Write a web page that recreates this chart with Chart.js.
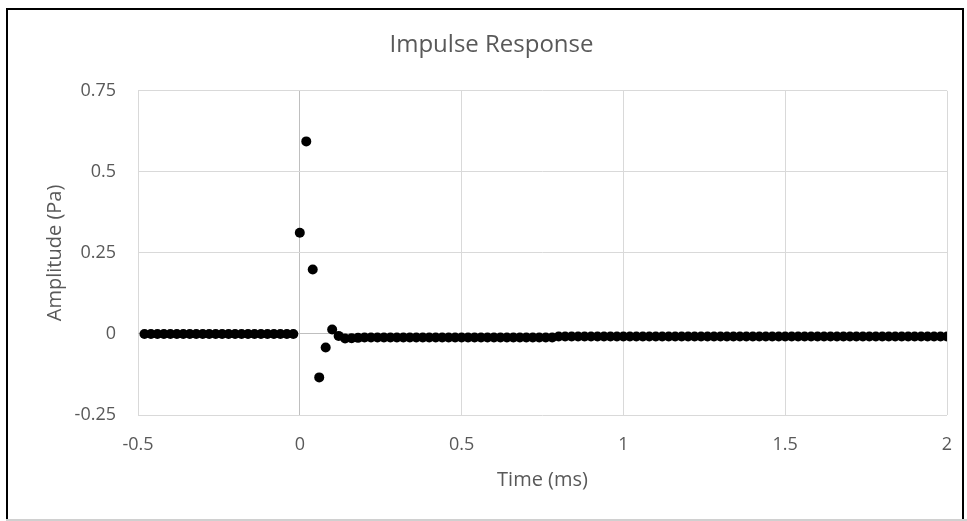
<!DOCTYPE html>
<html>
<head>
<meta charset="utf-8">
<script src="https://cdn.jsdelivr.net/npm/chart.js@4/dist/chart.umd.min.js"></script>
<style>
  html, body { margin: 0; padding: 0; background: #ffffff; }
  #wrap { position: relative; width: 967px; height: 521px; }
</style>
</head>
<body>
<div id="wrap"><canvas id="c" width="967" height="521"></canvas></div>
<script>
const chartTitle = "Impulse Response";
const xAxisTitle = "Time (ms)";
const yAxisTitle = "Amplitude (Pa)";
const xTicks = [-0.5, 0, 0.5, 1, 1.5, 2];
const yTicks = [-0.25, 0, 0.25, 0.5, 0.75];

const times = [
  -0.48,-0.46,-0.44,-0.42,-0.40,-0.38,-0.36,-0.34,-0.32,-0.30,-0.28,-0.26,
  -0.24,-0.22,-0.20,-0.18,-0.16,-0.14,-0.12,-0.10,-0.08,-0.06,-0.04,-0.02,
  0.00,0.02,0.04,0.06,0.08,0.10,0.12,0.14,0.16,0.18,
  0.20,0.22,0.24,0.26,0.28,0.30,0.32,0.34,0.36,0.38,
  0.40,0.42,0.44,0.46,0.48,0.50,0.52,0.54,0.56,0.58,
  0.60,0.62,0.64,0.66,0.68,0.70,0.72,0.74,0.76,0.78,
  0.80,0.82,0.84,0.86,0.88,0.90,0.92,0.94,0.96,0.98,
  1.00,1.02,1.04,1.06,1.08,1.10,1.12,1.14,1.16,1.18,
  1.20,1.22,1.24,1.26,1.28,1.30,1.32,1.34,1.36,1.38,
  1.40,1.42,1.44,1.46,1.48,1.50,1.52,1.54,1.56,1.58,
  1.60,1.62,1.64,1.66,1.68,1.70,1.72,1.74,1.76,1.78,
  1.80,1.82,1.84,1.86,1.88,1.90,1.92,1.94,1.96,1.98,
  2.00
];

const amplitudes = [
  0,0,0,0,0,0,0,0,0,0,0,0,
  0,0,0,0,0,0,0,0,0,0,0,0,
  0.312,0.594,0.199,-0.134,-0.042,0.014,-0.006,-0.014,-0.013,-0.012,
  -0.011,-0.011,-0.011,-0.011,-0.011,-0.011,-0.011,-0.011,-0.011,-0.011,
  -0.011,-0.011,-0.011,-0.011,-0.011,-0.011,-0.011,-0.011,-0.011,-0.011,
  -0.011,-0.011,-0.011,-0.011,-0.011,-0.011,-0.011,-0.011,-0.011,-0.011,
  -0.008,-0.008,-0.008,-0.008,-0.008,-0.008,-0.008,-0.008,-0.008,-0.008,
  -0.008,-0.008,-0.008,-0.008,-0.008,-0.008,-0.008,-0.008,-0.008,-0.008,
  -0.008,-0.008,-0.008,-0.008,-0.008,-0.008,-0.008,-0.008,-0.008,-0.008,
  -0.008,-0.008,-0.008,-0.008,-0.008,-0.008,-0.008,-0.008,-0.008,-0.008,
  -0.008,-0.008,-0.008,-0.008,-0.008,-0.008,-0.008,-0.008,-0.008,-0.008,
  -0.008,-0.008,-0.008,-0.008,-0.008,-0.008,-0.008,-0.008,-0.008,-0.008,
  -0.008
];

const points = times.map((t, i) => ({ x: t, y: amplitudes[i] }));

const textColor = '#595959';
const fontFamily = "'Open Sans', 'Noto Sans', sans-serif";

const framePlugin = {
  id: 'frame',
  afterDraw(chart) {
    const ctx = chart.ctx;
    ctx.save();
    ctx.strokeStyle = '#000000';
    ctx.lineWidth = 2;
    ctx.beginPath();
    ctx.moveTo(7, 521);
    ctx.lineTo(7, 9);
    ctx.lineTo(963, 9);
    ctx.lineTo(963, 521);
    ctx.stroke();
    ctx.strokeStyle = '#d0d0d0';
    ctx.lineWidth = 2;
    ctx.beginPath();
    ctx.moveTo(6, 520);
    ctx.lineTo(967, 520);
    ctx.stroke();
    ctx.restore();
  }
};

new Chart(document.getElementById('c'), {
  type: 'scatter',
  data: {
    datasets: [{
      data: points,
      backgroundColor: '#000000',
      borderColor: '#000000',
      borderWidth: 0,
      pointRadius: 5,
      pointHoverRadius: 5
    }]
  },
  options: {
    responsive: false,
    animation: false,
    events: [],
    layout: { padding: { left: 36, right: 20, top: 0, bottom: 14 } },
    plugins: {
      legend: { display: false },
      tooltip: { enabled: false },
      title: {
        display: true,
        text: chartTitle,
        color: textColor,
        font: { family: fontFamily, size: 24, weight: 'normal' },
        padding: { top: 31, bottom: 31 }
      }
    },
    scales: {
      x: {
        type: 'linear',
        min: -0.5,
        max: 2,
        afterBuildTicks: s => { s.ticks = xTicks.map(v => ({ value: v })); },
        afterFit: s => { s.height = 92; s.paddingLeft = 0; s.paddingRight = 0; },
        ticks: {
          color: textColor,
          font: { family: fontFamily, size: 18 },
          padding: 19,
          callback: v => String(v)
        },
        grid: {
          drawTicks: false,
          color: ctx => (ctx.tick && ctx.tick.value === 0) ? '#bfbfbf' : '#d9d9d9',
          lineWidth: 1
        },
        border: { display: false },
        title: {
          display: true,
          text: xAxisTitle,
          color: textColor,
          font: { family: fontFamily, size: 20 },
          padding: { top: 8, bottom: 15 }
        }
      },
      y: {
        type: 'linear',
        min: -0.25,
        max: 0.75,
        afterBuildTicks: s => { s.ticks = yTicks.map(v => ({ value: v })); },
        afterFit: s => { s.width = 102; s.paddingTop = 0; s.paddingBottom = 0; },
        ticks: {
          color: textColor,
          font: { family: fontFamily, size: 18 },
          padding: 22,
          callback: v => String(v)
        },
        grid: {
          drawTicks: false,
          color: ctx => (ctx.tick && ctx.tick.value === 0) ? '#bfbfbf' : '#d9d9d9',
          lineWidth: 1
        },
        border: { display: false },
        title: {
          display: true,
          text: yAxisTitle,
          color: textColor,
          font: { family: fontFamily, size: 20 },
          padding: { top: 7, bottom: 0 }
        }
      }
    }
  },
  plugins: [framePlugin]
});
</script>
</body>
</html>
